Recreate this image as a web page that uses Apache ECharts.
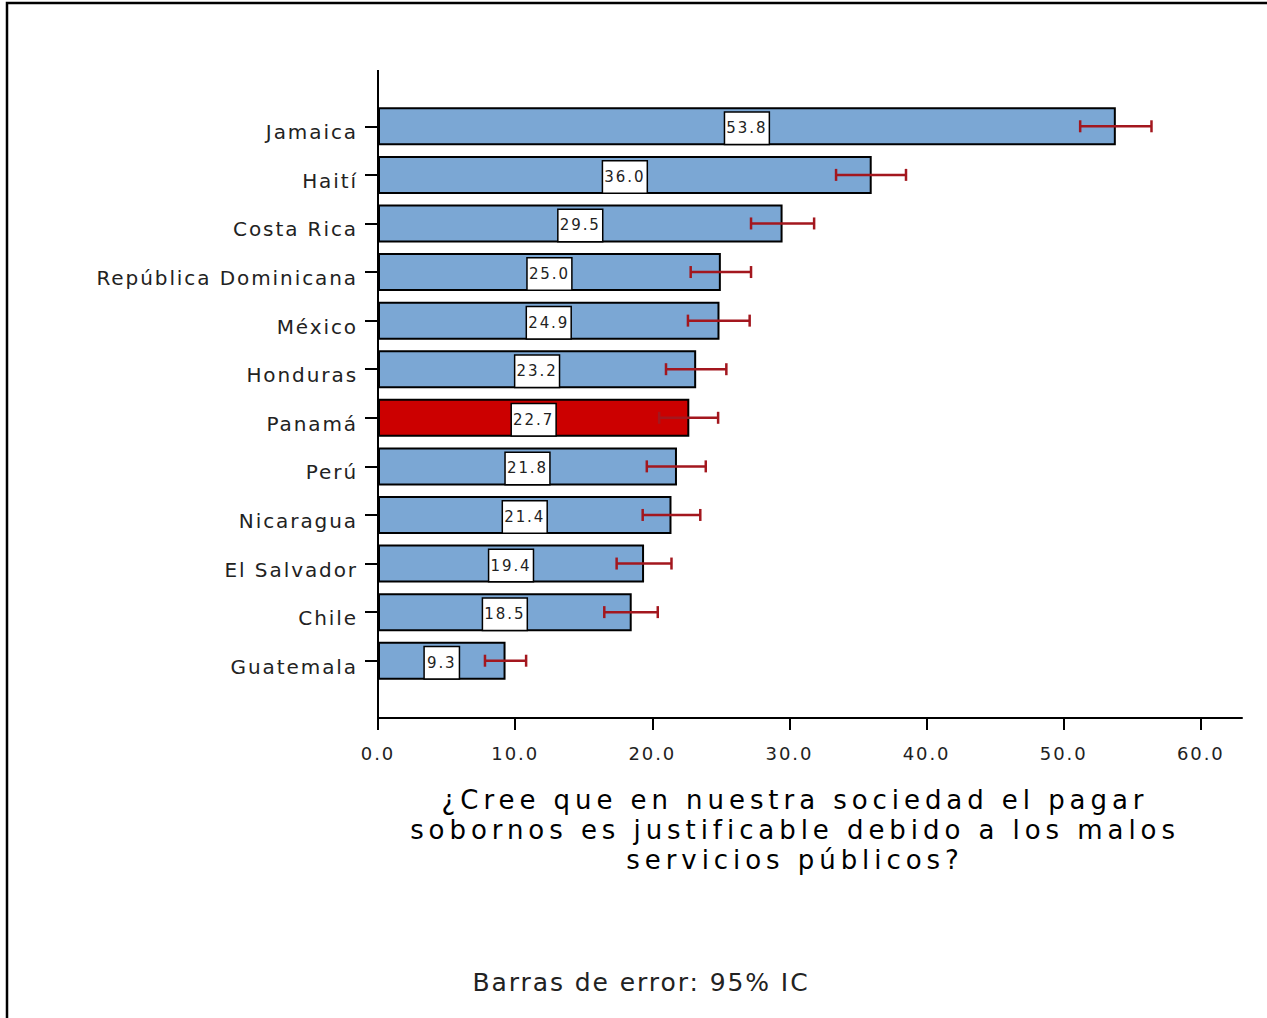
<!DOCTYPE html>
<html>
<head>
<meta charset="utf-8">
<script src="https://cdn.jsdelivr.net/npm/echarts@6/dist/echarts.min.js"></script>
<style>
  html, body { margin: 0; padding: 0; background: #fff; }
  #chart { width: 1267px; height: 1018px; letter-spacing: 0.12em; }
  #chart text[style*="26px"] { letter-spacing: 0.19em; }
</style>
</head>
<body>
<div id="chart"></div>
<script>
// paises, de arriba hacia abajo
var countries = ['Jamaica', 'Haití', 'Costa Rica', 'República Dominicana', 'México', 'Honduras',
                 'Panamá', 'Perú', 'Nicaragua', 'El Salvador', 'Chile', 'Guatemala'];
var values = [53.8, 36.0, 29.5, 25.0, 24.9, 23.2, 22.7, 21.8, 21.4, 19.4, 18.5, 9.3];
// intervalo de confianza 95%
var ciLow  = [51.2, 33.4, 27.2, 22.8, 22.6, 21.0, 20.5, 19.6, 19.3, 17.4, 16.5, 7.8];
var ciHigh = [56.4, 38.5, 31.8, 27.2, 27.1, 25.4, 24.8, 23.9, 23.5, 21.4, 20.4, 10.8];
var xTicks = [0, 10, 20, 30, 40, 50, 60];
var highlight = 'Panamá';

var FONT = 'DejaVu Sans';
var BLUE = '#7ba7d4';
var RED = '#cc0000';
var ERR = '#a3171e';

var barData = [];
for (var i = 0; i < values.length; i++) {
	barData.push({
		value: values[i],
		itemStyle: { color: countries[i] == highlight ? RED : BLUE }
	});
}
var errData = [];
for (var i = 0; i < countries.length; i++) {
	errData.push([i, ciLow[i], ciHigh[i]]);
}

// svg para que el espaciado de letras del contenedor se aplique al texto
var chart = echarts.init(document.getElementById('chart'), null, { renderer: 'svg' });
var option = {
	animation: false,
	grid: { left: 378, right: 25, top: 102, bottom: 333, containLabel: false },
	xAxis: {
		type: 'value',
		min: 0,
		max: 63,
		interval: 10,
		offset: 33,
		splitLine: { show: false },
		axisLine: { show: true, lineStyle: { color: '#000', width: 2 } },
		axisTick: { show: true, length: 12, customValues: xTicks, lineStyle: { color: '#000', width: 2 } },
		axisLabel: {
			customValues: xTicks,
			margin: 26,
			fontFamily: FONT,
			fontSize: 18,
			color: '#222',
			formatter: function (v) { return v.toFixed(1); }
		}
	},
	yAxis: {
		type: 'category',
		data: countries,
		inverse: true,
		axisLine: { show: false },
		axisTick: { show: true, alignWithLabel: true, length: 13, lineStyle: { color: '#000', width: 2 } },
		axisLabel: { margin: 20, fontFamily: FONT, fontSize: 20, color: '#222', verticalAlign: 'top', lineHeight: 12 }
	},
	series: [
		{
			type: 'bar',
			data: barData,
			barWidth: 38,
			itemStyle: { borderColor: '#000', borderWidth: 2 },
			label: {
				show: true,
				position: 'inside',
				offset: [0, 2],
				fontFamily: FONT,
				fontSize: 15,
				color: '#222',
				backgroundColor: '#fff',
				borderColor: '#000',
				borderWidth: 1.5,
				padding: [8, 5],
				formatter: function (p) { return p.value.toFixed(1); }
			}
		},
		{
			type: 'custom',
			data: errData,
			z: 5,
			renderItem: function (params, api) {
				var idx = api.value(0);
				var lo = api.coord([api.value(1), idx]);
				var hi = api.coord([api.value(2), idx]);
				var cap = 6;
				var st = { stroke: ERR, lineWidth: 2.5 };
				return {
					type: 'group',
					children: [
						{ type: 'line', shape: { x1: lo[0], y1: lo[1], x2: hi[0], y2: hi[1] }, style: st },
						{ type: 'line', shape: { x1: lo[0], y1: lo[1] - cap, x2: lo[0], y2: lo[1] + cap }, style: st },
						{ type: 'line', shape: { x1: hi[0], y1: hi[1] - cap, x2: hi[0], y2: hi[1] + cap }, style: st }
					]
				};
			},
			encode: { x: [1, 2], y: 0 }
		}
	],
	graphic: [
		// marco
		{ type: 'rect', shape: { x: 7, y: 3, width: 1400, height: 1200 }, style: { fill: null, stroke: '#000', lineWidth: 2.5 }, silent: true },
		// eje vertical
		{ type: 'line', shape: { x1: 378, y1: 70, x2: 378, y2: 719 }, style: { stroke: '#000', lineWidth: 2 }, silent: true },
		{
			type: 'text', x: 795, y: 785,
			style: {
				text: '¿Cree que en nuestra sociedad el pagar\nsobornos es justificable debido a los malos\nservicios públicos?',
				font: '26px "DejaVu Sans"', fill: '#000', textAlign: 'center', lineHeight: 30
			}
		},
		{
			type: 'text', x: 641, y: 970,
			style: { text: 'Barras de error: 95% IC', font: '25px "DejaVu Sans"', fill: '#222', textAlign: 'center' }
		}
	]
};
chart.setOption(option);
</script>
</body>
</html>
